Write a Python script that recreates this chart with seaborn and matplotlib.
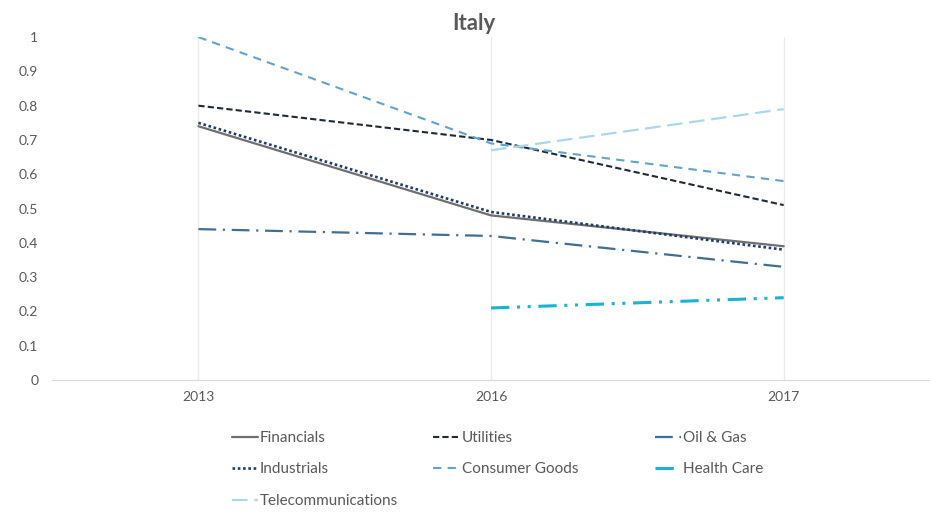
import matplotlib.pyplot as plt
import pandas as pd
import seaborn as sns

# data
years = ["2013", "2016", "2017"]
financials = [0.74, 0.48, 0.39]
industrials = [0.75, 0.49, 0.38]
utilities = [0.80, 0.70, 0.51]
consumer_goods = [1.00, 0.69, 0.58]
oil_gas = [0.44, 0.42, 0.33]
health_care = [None, 0.21, 0.24]
telecom = [None, 0.67, 0.79]

series = {
    "Financials": financials,
    "Industrials": industrials,
    "Telecommunications": telecom,
    "Utilities": utilities,
    "Consumer Goods": consumer_goods,
    "Oil & Gas": oil_gas,
    "Health Care": health_care,
}

colors = {
    "Financials": "#6f6f6f",
    "Industrials": "#1f3b73",
    "Telecommunications": "#a8d8ee",
    "Utilities": "#1e2a38",
    "Consumer Goods": "#5fa3d3",
    "Oil & Gas": "#3f6f96",
    "Health Care": "#19b3d6",
}
dashes = {
    "Financials": "",
    "Industrials": (1, 1),
    "Telecommunications": (7, 3),
    "Utilities": (3, 1.5),
    "Consumer Goods": (4, 3),
    "Oil & Gas": (8, 3, 1, 3),
    "Health Care": (6, 2.5, 1, 2.5, 1, 2.5),
}
widths = {
    "Financials": 1.6,
    "Industrials": 1.9,
    "Telecommunications": 1.6,
    "Utilities": 1.5,
    "Consumer Goods": 1.5,
    "Oil & Gas": 1.6,
    "Health Care": 2.2,
}

rows = []
for name, vals in series.items():
    for yr, v in zip(years, vals):
        if v is not None:
            rows.append({"year": yr, "sector": name, "value": v})
df = pd.DataFrame(rows)

sns.set_style("white")
plt.rcParams["font.family"] = ["Lato", "DejaVu Sans"]

fig = plt.figure(figsize=(9.3, 5.16), dpi=100)
ax = fig.add_axes([0.056, 0.2636, 0.944, 0.6645])

order = ["Financials", "Utilities", "Consumer Goods", "Industrials",
         "Oil & Gas", "Telecommunications", "Health Care"]
handles = {}
for name in order:
    sub = df[df["sector"] == name]
    sns.lineplot(data=sub, x="year", y="value", ax=ax, color=colors[name],
                 linewidth=widths[name], legend=False)
    line = ax.get_lines()[-1]
    if dashes[name]:
        line.set_dashes(dashes[name])
    handles[name] = line

ax.set_xlim(-0.5, 2.5)
ax.set_ylim(0, 1)
ax.set_yticks([i / 10 for i in range(11)])
ax.set_yticklabels(["0"] + [f"0.{i}" for i in range(1, 10)] + ["1"])
ax.grid(axis="x", color="#ebebeb", linewidth=1)
ax.grid(axis="y", visible=False)
ax.set_xlabel("")
ax.set_ylabel("")
for s in ["top", "right", "left"]:
    ax.spines[s].set_visible(False)
ax.spines["bottom"].set_color("#d9d9d9")
ax.tick_params(axis="both", length=0, labelsize=10, colors="#595959", pad=8)
ax.tick_params(axis="y", pad=10)

fig.text(0.51, 0.955, "Italy", ha="center", va="center", fontsize=16,
         fontweight="bold", color="#595959")

# legend laid out as three columns, like the original
cols = [
    (0.249, ["Financials", "Industrials", "Telecommunications"]),
    (0.466, ["Utilities", "Consumer Goods"]),
    (0.704, ["Oil & Gas", "Health Care"]),
]
for x0, names in cols:
    leg = fig.legend([handles[n] for n in names], names, loc="upper left",
                     bbox_to_anchor=(x0, 0.165), frameon=False, fontsize=11,
                     handlelength=1.7, handletextpad=0.15, labelspacing=1.15,
                     borderaxespad=0, borderpad=0)
    for t in leg.get_texts():
        t.set_color("#595959")

fig.savefig("out.png", dpi=100)
